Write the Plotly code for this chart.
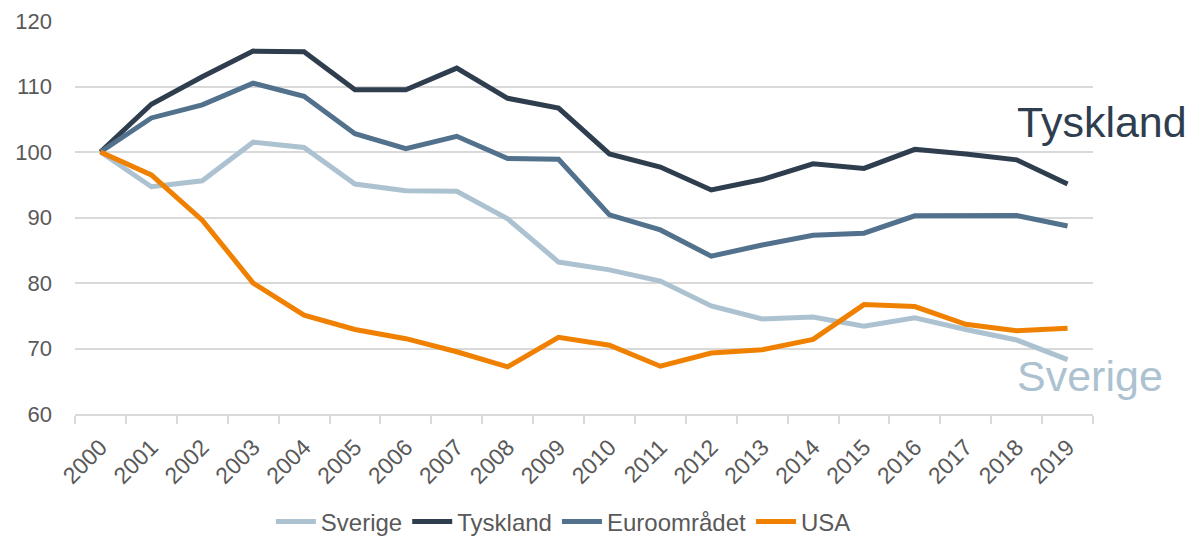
import plotly.graph_objects as go

years = [str(y) for y in range(2000, 2020)]
sverige = [100, 94.7, 95.6, 101.5, 100.7, 95.1, 94.1, 94.0, 89.8, 83.2, 82.0, 80.3, 76.5, 74.5, 74.8, 73.4, 74.7, 72.9, 71.3, 68.3]
tyskland = [100, 107.3, 111.5, 115.4, 115.3, 109.5, 109.5, 112.8, 108.2, 106.7, 99.7, 97.7, 94.2, 95.8, 98.2, 97.5, 100.4, 99.7, 98.8, 95.1]
euro = [100, 105.2, 107.2, 110.5, 108.5, 102.8, 100.5, 102.4, 99.0, 98.9, 90.4, 88.1, 84.1, 85.8, 87.3, 87.6, 90.25, 90.2, 90.3, 88.7]
usa = [100, 96.5, 89.6, 80.0, 75.1, 72.9, 71.5, 69.5, 67.2, 71.7, 70.5, 67.3, 69.3, 69.8, 71.4, 76.7, 76.4, 73.7, 72.7, 73.1]

series = [
    ("Sverige", sverige, "#adc2d0"),
    ("Tyskland", tyskland, "#2f3e4e"),
    ("Euroområdet", euro, "#52718c"),
    ("USA", usa, "#f08100"),
]

font_family = "Arial, Liberation Sans, sans-serif"
grey = "#595959"

fig = go.Figure()
for name, vals, col in series:
    fig.add_trace(go.Scatter(x=years, y=vals, name=name, mode="lines",
                             line=dict(color=col, width=5)))

fig.update_layout(
    width=1191, height=539,
    margin=dict(l=75, r=98, t=21, b=125),
    paper_bgcolor="white", plot_bgcolor="white",
    font=dict(family=font_family, color=grey, size=20),
    showlegend=True,
    legend=dict(orientation="h", xref="container", yref="container",
                x=0.473, xanchor="center", y=0.0315, yanchor="middle",
                font=dict(size=24, color=grey), itemwidth=40, tracegroupgap=0),
    xaxis=dict(type="category", tickangle=-45, tickson="boundaries",
               range=[-0.5, 19.5], automargin=False,
               ticks="outside", ticklen=8, tickcolor="#d9d9d9", tickwidth=1.5,
               ticklabelstandoff=9,
               showline=True, linecolor="#d9d9d9", linewidth=1.5,
               showgrid=False, tickfont=dict(size=23, color=grey)),
    yaxis=dict(range=[60, 120], dtick=10, showgrid=True, gridcolor="#d9d9d9",
               gridwidth=1.5, zeroline=False, showline=False, automargin=False,
               ticklabelstandoff=22,
               tickfont=dict(size=22, color=grey)),
    annotations=[
        dict(text="Tyskland", xref="paper", yref="paper", x=0.923, y=0.744,
             xanchor="left", yanchor="middle", showarrow=False,
             font=dict(size=43, color="#2f3e4e", family=font_family)),
        dict(text="Sverige", xref="paper", yref="paper", x=0.923, y=0.0967,
             xanchor="left", yanchor="middle", showarrow=False,
             font=dict(size=43, color="#adc2d0", family=font_family)),
    ],
)

fig.write_html("out.html", config={"displayModeBar": False},
               post_script="document.body.style.margin='0';")
